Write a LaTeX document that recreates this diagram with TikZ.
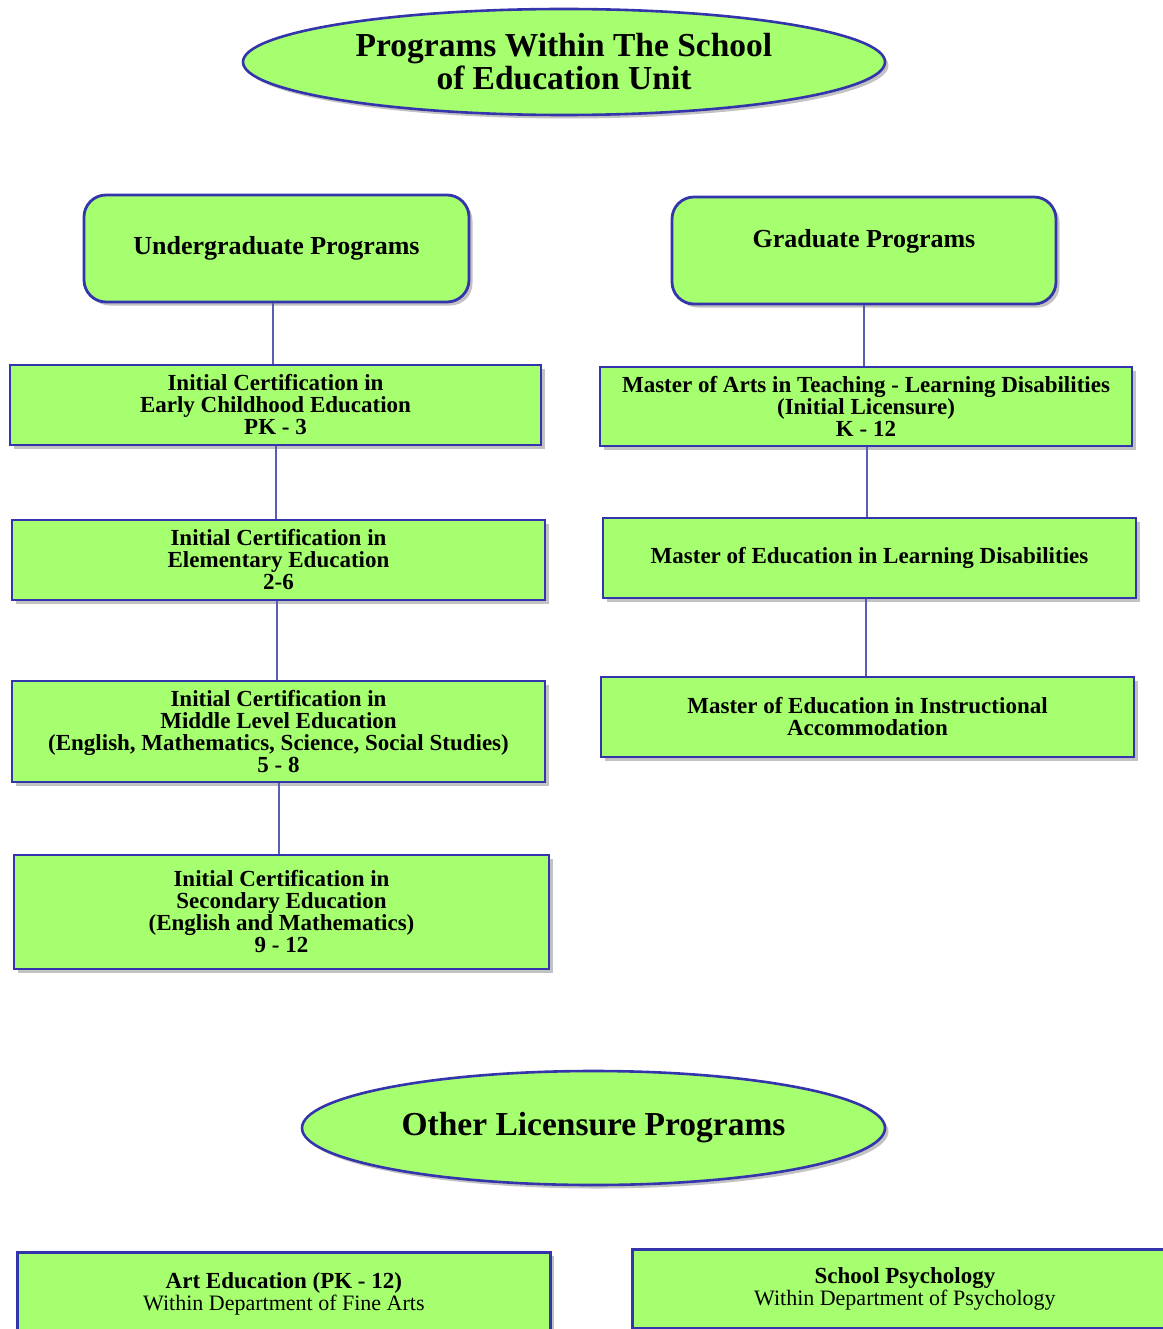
\documentclass[tikz,border=0pt]{standalone}
\usepackage{fontspec}
\setmainfont{Liberation Serif}
\usetikzlibrary{shapes.geometric,shadows}

\definecolor{boxfill}{RGB}{166,255,110}
\definecolor{boxline}{RGB}{52,52,172}
\definecolor{linkline}{RGB}{92,92,176}

\tikzset{
  softshadow/.style={drop shadow={shadow xshift=3.5pt, shadow yshift=-3.5pt, opacity=0.4, fill=black!60}},
  headoval/.style={ellipse, draw=boxline, line width=2.6pt, fill=boxfill, softshadow,
    inner sep=0pt, align=center, font=\fontsize{33.5}{33}\selectfont\bfseries},
  groupbox/.style={rectangle, rounded corners=22pt, draw=boxline, line width=2.8pt, fill=boxfill,
    softshadow, inner sep=0pt, align=center, font=\fontsize{26}{28}\selectfont\bfseries},
  progbox/.style={rectangle, draw=boxline, line width=2.8pt, fill=boxfill, softshadow,
    inner sep=0pt, align=center, font=\fontsize{23}{22}\selectfont\bfseries},
  link/.style={draw=linkline, line width=2.6pt}
}

\begin{document}
\begin{tikzpicture}[x=1pt,y=-1pt]
\useasboundingbox (0,0) rectangle (1162,1329);

% title
\node[headoval, minimum width=642pt, minimum height=106pt] (title) at (564,62)
  {Programs Within The School\\of Education Unit};

% group headers
\node[groupbox, minimum width=385pt, minimum height=107pt] (ug) at (276.5,248.5)
  {Undergraduate Programs};
\node[groupbox, minimum width=384pt, minimum height=107pt, text height=18pt, text depth=24pt] (gr) at (864,250.5)
  {Graduate Programs};

% undergraduate programs
\node[progbox, minimum width=531pt, minimum height=80pt] (ece) at (275.5,405)
  {Initial Certification in\\Early Childhood Education\\PK - 3};
\node[progbox, minimum width=533pt, minimum height=80pt] (ele) at (278.5,560)
  {Initial Certification in\\Elementary Education\\2-6};
\node[progbox, minimum width=533pt, minimum height=101pt] (mid) at (278.5,731.5)
  {Initial Certification in\\Middle Level Education\\(English, Mathematics, Science, Social Studies)\\5 - 8};
\node[progbox, minimum width=535pt, minimum height=114pt] (sec) at (281.5,912)
  {Initial Certification in\\Secondary Education\\(English and Mathematics)\\9 - 12};

% graduate programs
\node[progbox, minimum width=532pt, minimum height=79pt] (mat) at (866,406.5)
  {Master of Arts in Teaching - Learning Disabilities\\(Initial Licensure)\\K - 12};
\node[progbox, minimum width=533pt, minimum height=80pt] (mld) at (869.5,558)
  {Master of Education in Learning Disabilities};
\node[progbox, minimum width=533pt, minimum height=80pt] (mia) at (867.5,717)
  {Master of Education in Instructional\\Accommodation};

% connectors
\draw[link] (ug.south -| 273,0) -- (ece.north -| 273,0);
\draw[link] (ece.south -| 276,0) -- (ele.north -| 276,0);
\draw[link] (ele.south -| 277,0) -- (mid.north -| 277,0);
\draw[link] (mid.south -| 279,0) -- (sec.north -| 279,0);
\draw[link] (gr.south) -- (gr.south |- mat.north);
\draw[link] (mat.south -| 867,0) -- (mld.north -| 867,0);
\draw[link] (mld.south -| 866,0) -- (mia.north -| 866,0);

% other licensure programs
\node[headoval, minimum width=583pt, minimum height=114pt] (other) at (593.5,1128)
  {Other Licensure Programs};

\node[progbox, minimum width=533pt, minimum height=82pt, anchor=north west] (art) at (16,1251)
  {Art Education (PK - 12)\\\mdseries\fontsize{22}{22}\selectfont Within Department of Fine Arts};
\node[progbox, minimum width=545pt, minimum height=79pt, anchor=north west] (psy) at (631,1248)
  {School Psychology\\\mdseries\fontsize{22}{22}\selectfont Within Department of Psychology};
\end{tikzpicture}
\end{document}
